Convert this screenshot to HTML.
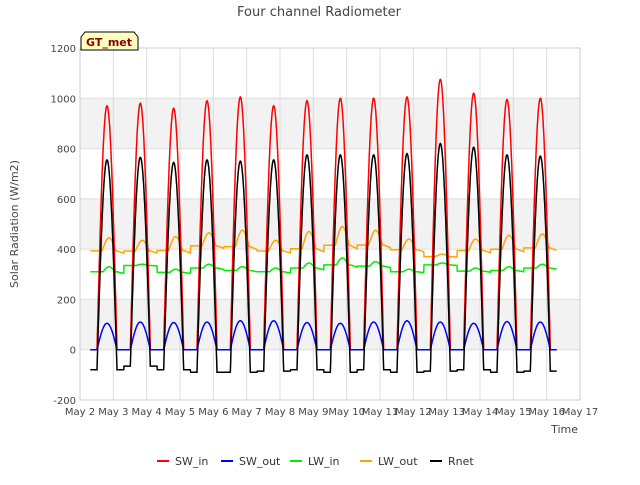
<!DOCTYPE html>
<html><head><meta charset="utf-8"><style>
body{margin:0;background:#fff;font-family:"Liberation Sans","DejaVu Sans",sans-serif;}
svg text{font-family:"DejaVu Sans","Liberation Sans",sans-serif;}
</style></head><body>
<svg id="c" width="640" height="480" xmlns="http://www.w3.org/2000/svg">
<rect width="640" height="480" fill="#fff"/>
<g id="bands"></g><g id="grid"></g><g id="series"></g><g id="axes"></g>
<text x="319" y="16" text-anchor="middle" font-size="13" fill="#444">Four channel Radiometer</text>
<text x="18" y="224" text-anchor="middle" font-size="11" fill="#444" transform="rotate(-90 18 224)">Solar Radiation (W/m2)</text>
<text x="578" y="433" text-anchor="end" font-size="11" fill="#444">Time</text>
<g>
<path d="M81,50 L81,37 L85,32 L134,32 L138,37 L138,50 Z" fill="#ffffc0" stroke="#000"/>
<text x="109" y="46" text-anchor="middle" font-size="11" font-weight="bold" fill="#8b0000">GT_met</text>
</g>
<g id="legend"></g>
</svg>
<script>
const yTicks=[-200,0,200,400,600,800,1000,1200];
const xTickLabels=["May 2","May 3","May 4","May 5","May 6","May 7","May 8","May 9","May 10","May 11","May 12","May 13","May 14","May 15","May 16","May 17"];
const swInPeak=[970,980,960,990,1005,970,990,1000,1000,1005,1075,1020,995,1000];
const swOutPeak=[105,110,108,110,115,115,108,105,110,115,110,105,112,110];
const lwInDay=[330,340,320,340,330,325,345,365,350,320,345,325,330,340];
const lwInNight=[290,330,295,310,300,295,305,310,315,300,330,300,300,310];
const lwOutPeak=[445,435,450,465,475,435,470,490,475,440,380,440,455,460];
const lwOutNight=[365,370,365,385,375,370,365,375,385,375,365,370,370,375];
const rnetPeak=[755,765,745,755,750,755,775,775,775,780,820,805,775,770];
const rnetNight=[-80,-65,-80,-90,-90,-85,-80,-90,-80,-90,-85,-80,-90,-85];
const legendNames=["SW_in","SW_out","LW_in","LW_out","Rnet"];
const colors=["#ff0000","#0000ff","#00ee00","#ffa500","#000000"];

const X0=80,X1=580,Y0=400,Y1=48;
const xs=d=>X0+(d-2)/15*(X1-X0);
const ys=v=>Y0-(v+200)/1400*(Y0-Y1);
const NS="http://www.w3.org/2000/svg";
function mk(tag,attrs,parent){const e=document.createElementNS(NS,tag);for(const k in attrs)e.setAttribute(k,attrs[k]);parent.appendChild(e);return e;}
const bands=document.getElementById('bands'),grid=document.getElementById('grid'),axes=document.getElementById('axes'),series=document.getElementById('series'),legend=document.getElementById('legend');
mk('rect',{x:X0,y:Y1,width:X1-X0,height:Y0-Y1,fill:'#fff'},bands);
for(let i=0;i<yTicks.length-1;i++){
  if(yTicks[i]%400===0){
    const b=mk('rect',{x:X0,y:ys(yTicks[i]+200),width:X1-X0,height:ys(yTicks[i])-ys(yTicks[i]+200),fill:'#f2f2f2'},bands);
    
    
  }
}
yTicks.forEach(v=>{
  mk('line',{x1:X0,x2:X1,y1:ys(v),y2:ys(v),stroke:'#ddd'},grid);
  const t=mk('text',{x:X0-4,y:ys(v)+4,'text-anchor':'end','font-size':10,fill:'#444'},axes);t.textContent=v;
  
  
});
xTickLabels.forEach((l,i)=>{
  const x=xs(2+i);
  mk('line',{x1:x,x2:x,y1:Y1,y2:Y0,stroke:'#ddd'},grid);
  const t=mk('text',{x:x,y:Y0+15,'text-anchor':'middle','font-size':10,fill:'#444'},axes);t.textContent=l;
  
  
});
mk('rect',{x:X0,y:Y1,width:X1-X0,height:Y0-Y1,fill:'none',stroke:'#ccc'},axes);

const HW=0.3;
function shape(t){
  const di=Math.floor(t-2.31); const noon=2.81+di; const dt=t-noon;
  const s=Math.abs(dt)<HW?Math.cos(Math.PI*dt/(2*HW)):0;
  const dl=dt-0.06;
  const l=Math.abs(dl)<0.35?Math.pow(Math.cos(Math.PI*dl/0.7),2):0;
  const night=Math.max(0,Math.min(1,(dt-0.3)/0.6)); // decay after sunset
  return {di:Math.max(0,Math.min(13,di)),s,l,night};
}
const vals=[[],[],[],[],[]];
for(let t=2.31;t<=16.3;t+=0.01){
  const {di,s,l,night}=shape(t);
  vals[0].push([t,swInPeak[di]*s]);
  vals[1].push([t,swOutPeak[di]*s]);
  vals[2].push([t,lwInNight[di]+(lwInDay[di]-lwInNight[di])*Math.max(l,0.5*(1-night))]);
  vals[3].push([t,lwOutNight[di]+(lwOutPeak[di]-lwOutNight[di])*Math.max(l,0.35*(1-night))]);
  vals[4].push([t,rnetNight[di]+(rnetPeak[di]-rnetNight[di])*s]);
}
const order=[3,2,0,1,4];
order.forEach(k=>{
  const p=mk('polyline',{points:vals[k].map(([t,v])=>xs(t).toFixed(1)+','+ys(v).toFixed(1)).join(' '),fill:'none',stroke:colors[k],'stroke-width':1.5},series);
  
  
});
const lx=[157,221,290,360,430];
legendNames.forEach((n,i)=>{
  const g=mk('g',{},legend);
  
  
  mk('line',{x1:lx[i],x2:lx[i]+12,y1:461,y2:461,stroke:colors[i],'stroke-width':2},g);
  const t=mk('text',{x:lx[i]+18,y:465,'font-size':11,fill:'#333'},g);t.textContent=n;
});
</script>
</body></html>
